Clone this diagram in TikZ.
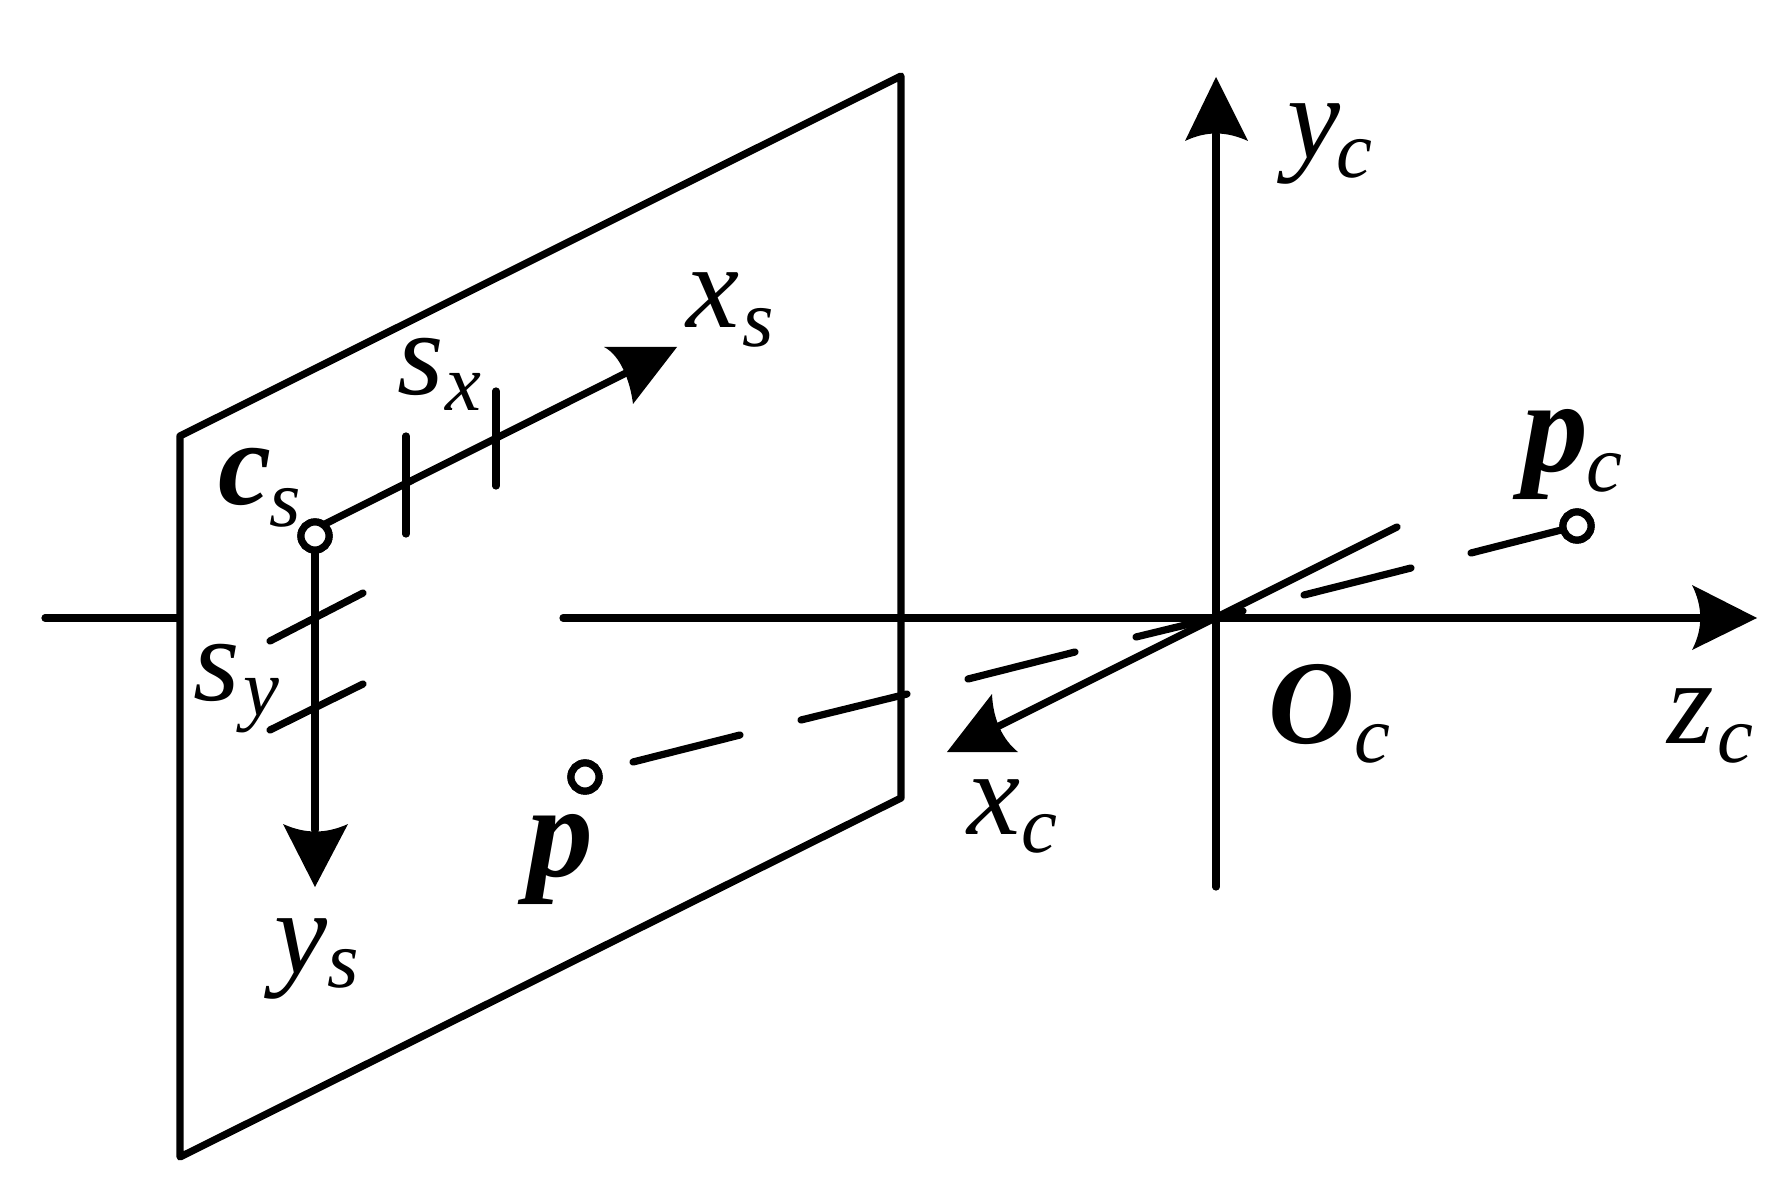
\documentclass[tikz,border=0pt]{standalone}
\usepackage{fontspec}
\setmainfont{Liberation Serif}
\newcommand{\szm}{\fontsize{68}{68}\selectfont}
\newcommand{\szb}{\fontsize{68}{68}\selectfont}
\newcommand{\szp}{\fontsize{75}{75}\selectfont}
\newcommand{\szs}{\fontsize{46}{46}\selectfont}
\newcommand{\subt}[3]{\kern#1\raisebox{-#2}{\szs\itshape #3}}
\tikzset{
  ln/.style={line width=4.1pt,line cap=round,line join=round,black},
  head/.style={fill=black,draw=none},
  ring/.style={circle,draw=black,line width=4.1pt,fill=white,minimum size=16pt,inner sep=0pt},
  txt/.style={anchor=base west,inner sep=0pt,outer sep=0pt}
}
\begin{document}
\begin{tikzpicture}[x=0.02cm,y=-0.02cm]
\useasboundingbox (0,0) rectangle (1784,1185);
% plane
\coordinate (A) at (180,436);
\coordinate (B) at (901,76);
\coordinate (C) at (901,798);
\coordinate (D) at (180,1157);
\coordinate (O) at (1216,618);
% z axis
\coordinate (zL1) at (45,618);
\coordinate (zL2) at (178,618);
\coordinate (zL3) at (563,618);
\coordinate (zT) at (1757,618);
\coordinate (zB) at (1700,618);
% y axis
\coordinate (yB) at (1216,887);
\coordinate (yT) at (1216,77);
\coordinate (yN) at (1216,134);
% x_c axis
\coordinate (xE) at (1397,527);
\coordinate (xT) at (947,752);
\coordinate (xN) at (997,727);
\node[ring] (cs) at (315,536) {};
\node[ring] (p) at (585,777) {};
\node[ring] (pc) at (1577,526) {};
\coordinate (csx) at (315,529);
\coordinate (xsT) at (677,347);
\coordinate (xsN) at (628,372);
\coordinate (ysT) at (315,887);
\coordinate (ysN) at (315,830);
\draw[ln] (A) -- (B) -- (C) -- (D) -- cycle;
\draw[ln] (zL1) -- (zL2);
\draw[ln] (zL3) -- (zB);
\draw[ln] (yB) -- (yN);
\draw[ln] (xE) -- (xN);
\draw[ln] (csx) -- (xsN);
\draw[ln] (cs) -- (ysN);
% arrow heads
\fill[head] (zT) -- (1692,585) .. controls (1703,607) and (1703,629) .. (1692,650) -- cycle;
\fill[head] (yT) -- (1185,141) .. controls (1206,131) and (1226,131) .. (1248,141) -- cycle;
\fill[head] (xT) -- (992,694) .. controls (993,720) and (1003,740) .. (1018,752) -- cycle;
\fill[head] (xsT) -- (604,347) .. controls (620,355) and (630,380) .. (633,404) -- cycle;
\fill[head] (ysT) -- (283,824) .. controls (305,834) and (326,834) .. (348,824) -- cycle;
% ticks
\coordinate (t1a) at (406,436); \coordinate (t1b) at (406,534);
\coordinate (t2a) at (496,391); \coordinate (t2b) at (496,486);
\coordinate (t3a) at (270,641); \coordinate (t3b) at (363,593);
\coordinate (t4a) at (270,730); \coordinate (t4b) at (363,684);
\draw[ln] (t1a) -- (t1b);
\draw[ln] (t2a) -- (t2b);
\draw[ln] (t3a) -- (t3b);
\draw[ln] (t4a) -- (t4b);
% projection ray
\coordinate (r1a) at (633,762); \coordinate (r1b) at (740,735);
\coordinate (r2a) at (801,720); \coordinate (r2b) at (907,694);
\coordinate (r3a) at (968,679); \coordinate (r3b) at (1075,652);
\coordinate (r4a) at (1136,637); \coordinate (r4b) at (1243,611);
\coordinate (r5a) at (1304,595); \coordinate (r5b) at (1411,568);
\coordinate (r6a) at (1471,553);
\draw[ln] (r1a) -- (r1b);
\draw[ln] (r2a) -- (r2b);
\draw[ln] (r3a) -- (r3b);
\draw[ln] (r4a) -- (r4b);
\draw[ln] (r5a) -- (r5b);
\draw[ln] (r6a) -- (pc);
\node[ring] at (cs) {};
\node[ring] at (p) {};
\node[ring] at (pc) {};
% labels
\node[txt] (lyc) at (1287,159) {{\szm\itshape y}\subt{-2pt}{10.5pt}{c}};
\node[txt] (lxs) at (686,328) {{\szm\itshape x}\subt{2pt}{10.5pt}{s}};
\node[txt] (lsx) at (397,395) {{\szm\itshape s}\subt{1pt}{9pt}{x}};
\node[txt] (lcs) at (218,504) {{\szm\bfseries\itshape c}\subt{-1pt}{13pt}{s}};
\node[txt] (lsy) at (193,700) {{\szm\itshape s}\subt{2pt}{9pt}{y}};
\node[txt] (lpc) at (1522,472) {{\szp\bfseries\itshape p}\subt{-1pt}{11pt}{c}};
\node[txt] (loc) at (1268,743) {{\szb\bfseries\itshape O}\subt{0pt}{11pt}{c}};
\node[txt] (lzc) at (1667,743) {{\szm\itshape z}\subt{2pt}{11pt}{c}};
\node[txt] (lxc) at (967,834) {{\szm\itshape x}\subt{1pt}{10.5pt}{c}};
\node[txt] (lp) at (527,876) {{\szp\bfseries\itshape p}};
\node[txt] (lys) at (274,973) {{\szm\itshape y}\subt{0pt}{8pt}{s}};
\end{tikzpicture}
\end{document}
